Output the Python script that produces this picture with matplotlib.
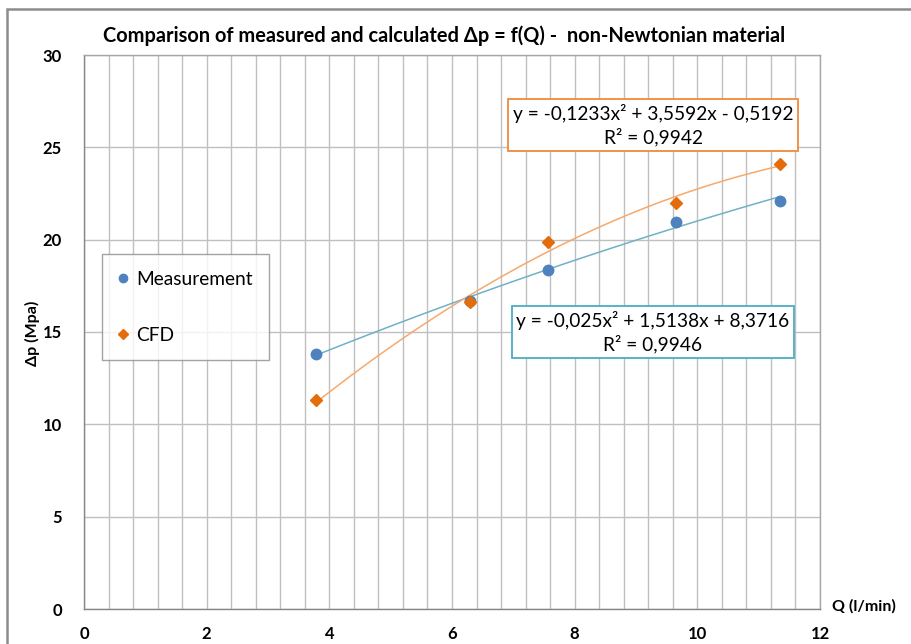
import numpy as np
import matplotlib
matplotlib.use("Agg")
import matplotlib.pyplot as plt
from matplotlib.patches import Rectangle
from matplotlib.ticker import MultipleLocator

plt.rcParams['font.family'] = ['Lato', 'DejaVu Sans']

# data
q_meas = [3.78, 6.30, 7.56, 9.65, 11.35]
dp_meas = [13.82, 16.70, 18.35, 20.97, 22.11]

q_cfd = [3.78, 6.30, 7.56, 9.65, 11.35]
dp_cfd = [11.30, 16.60, 19.89, 21.96, 24.08]

# trendline coefficients as printed on the chart (x^2, x, 1)
coef_meas = [-0.025, 1.5138, 8.3716]
coef_cfd = [-0.1233, 3.5592, -0.5192]
eq_meas = "y = -0,025x² + 1,5138x + 8,3716\nR² = 0,9946"
eq_cfd = "y = -0,1233x² + 3,5592x - 0,5192\nR² = 0,9942"

title = "Comparison of measured and calculated \u0394p = f(Q) -  non-Newtonian material"

W, H = 911, 644
fig = plt.figure(figsize=(W / 100, H / 100), dpi=100)
fig.patch.set_facecolor('white')


def fx(px):
    return px / W


def fy(py):
    return 1 - py / H


# outer chart frame (runs off the right and bottom edges)
fig.patches.append(Rectangle((fx(7), fy(700)), fx(960), fy(9) - fy(700), transform=fig.transFigure,
                             fill=False, edgecolor='#8c8c8c', linewidth=1.8))

ax = fig.add_axes([fx(84), fy(609), fx(820) - fx(84), fy(55) - fy(609)])
ax.set_xlim(0, 12)
ax.set_ylim(0, 30)
ax.xaxis.set_major_locator(MultipleLocator(2))
ax.xaxis.set_minor_locator(MultipleLocator(0.4))
ax.yaxis.set_major_locator(MultipleLocator(5))
ax.grid(True, which='both', axis='x', color='#c0c0c0', linewidth=1.0)
ax.grid(True, which='major', axis='y', color='#c0c0c0', linewidth=1.0)
ax.set_axisbelow(True)
ax.tick_params(which='both', length=0, labelsize=12)
ax.tick_params(axis='x', pad=12)
ax.tick_params(axis='y', pad=16)
for lab in ax.get_xticklabels() + ax.get_yticklabels():
    lab.set_fontweight('bold')
for s in ax.spines.values():
    s.set_color('#a6a6a6')
    s.set_linewidth(1.0)
ax.spines['left'].set_color('#868686')
ax.spines['bottom'].set_color('#868686')

# trendlines
xs = np.linspace(min(q_meas), max(q_meas), 100)
ax.plot(xs, np.polyval(coef_meas, xs), color='#6fb1c6', linewidth=1.1, zorder=2)
xs = np.linspace(min(q_cfd), max(q_cfd), 100)
ax.plot(xs, np.polyval(coef_cfd, xs), color='#f6a96c', linewidth=1.1, zorder=2)

ax.plot(q_meas, dp_meas, 'o', color='#4f81bd', markersize=7.5, zorder=3, label='Measurement')
ax.plot(q_cfd, dp_cfd, 'D', color='#e46c0a', markersize=6.5, zorder=4, label='CFD')

leg = ax.legend(loc='upper left', bbox_to_anchor=((101.7 - 84) / 736, (609 - 254.3) / 554),
                fontsize=13.8, frameon=True, fancybox=False, edgecolor='#8c8c8c',
                borderpad=0.85, labelspacing=2.05, handletextpad=0.45, handlelength=0.5,
                markerscale=0.8, borderaxespad=0)
leg.get_frame().set_linewidth(1.0)

# equation boxes
fig.text(fx(653), fy(125), eq_cfd, ha='center', va='center', fontsize=13.8, linespacing=1.3,
         bbox=dict(boxstyle='square,pad=0.25', facecolor='white', edgecolor='#f08a3c', linewidth=1.3))
fig.text(fx(653), fy(332), eq_meas, ha='center', va='center', fontsize=13.8, linespacing=1.3,
         bbox=dict(boxstyle='square,pad=0.25', facecolor='white', edgecolor='#4bacc6', linewidth=1.3))

fig.text(fx(444), fy(36), title, ha='center', va='center', fontsize=14.4, fontweight='bold')
fig.text(fx(32), fy(333), "\u0394p (Mpa)", ha='center', va='center', rotation=90,
         fontsize=11.5, fontweight='bold')
fig.text(fx(832), fy(606), "Q (l/min)", ha='left', va='center', fontsize=11.5, fontweight='bold')

fig.savefig("out.png", dpi=100)
